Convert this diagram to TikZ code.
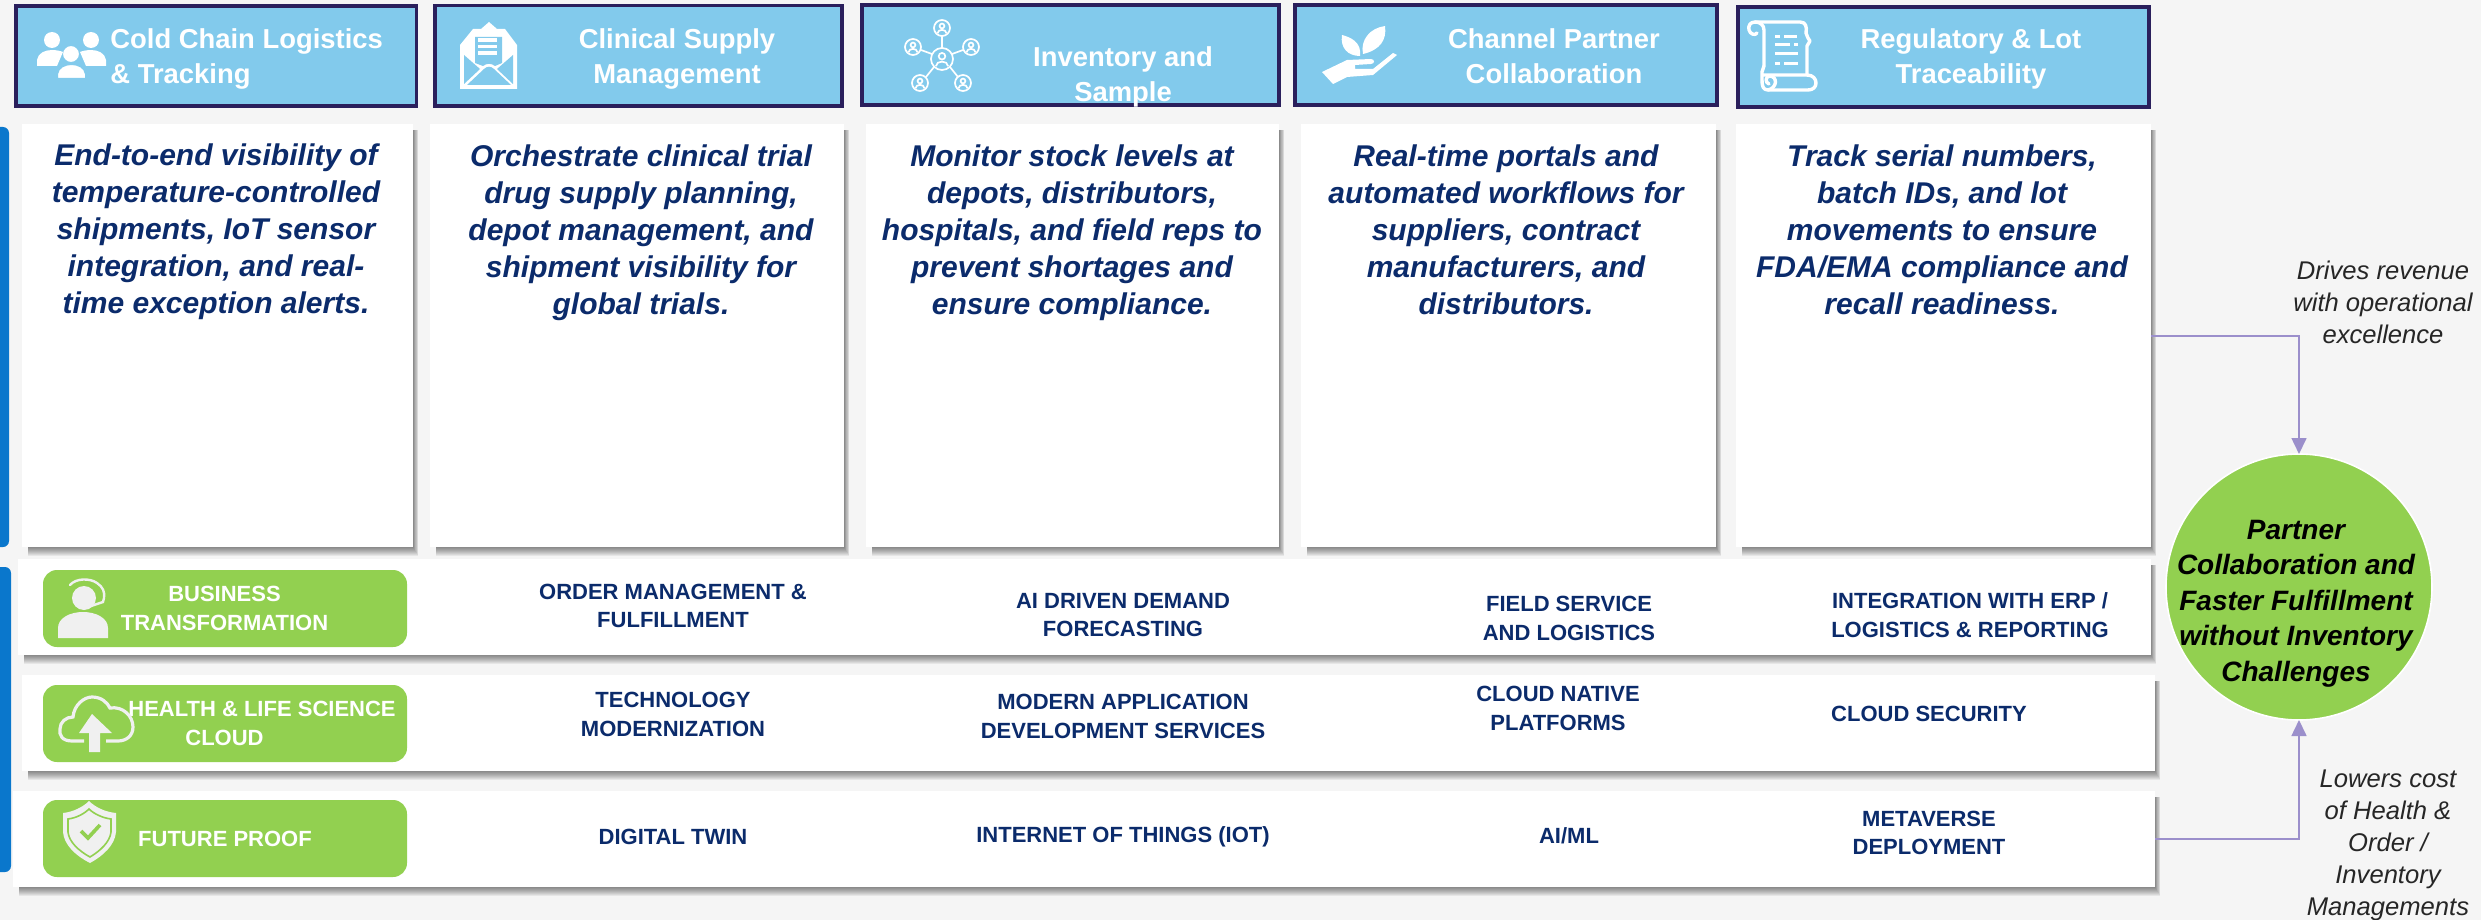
\documentclass[tikz,border=0pt]{standalone}
\usepackage{fontspec}
\setmainfont{Liberation Sans}
\usetikzlibrary{arrows.meta}
\definecolor{bgc}{HTML}{F5F5F5}
\definecolor{headfill}{HTML}{82CAEC}
\definecolor{headline}{HTML}{2A1F5C}
\definecolor{navy}{HTML}{0B2B6B}
\definecolor{leaf}{HTML}{92D050}
\definecolor{barblue}{HTML}{0A77CC}
\definecolor{conn}{HTML}{9B8FCB}
\definecolor{icongray}{HTML}{F0F0F0}
\tikzset{
  struts/.style={execute at begin node=\strut,execute at end node=\strut},
  headbox/.style={draw=headline,line width=1.75pt,fill=headfill,inner sep=0,outer sep=0},
  whitebox/.style={fill=white,inner sep=0,outer sep=0},
  pill/.style={fill=leaf,rounded corners=7pt,inner sep=0,outer sep=0},
  headtext/.style={struts,text=white,align=center,inner sep=0,font=\bfseries\fontsize{13.7}{17.5}\selectfont},
  headleft/.style={struts,text=white,align=left,anchor=west,inner sep=0,font=\bfseries\fontsize{13.7}{17.5}\selectfont},
  paneltext/.style={struts,text=navy,align=center,inner sep=0,font=\bfseries\itshape\fontsize{15}{18.5}\selectfont},
  rowtext/.style={text=navy,align=center,inner sep=0,font=\bfseries\fontsize{11}{14.3}\selectfont},
  pilltext/.style={text=white,align=center,inner sep=0,font=\bfseries\fontsize{11}{14.5}\selectfont},
  goaltext/.style={struts,text=black,align=center,inner sep=0,font=\bfseries\itshape\fontsize{14}{17.7}\selectfont},
  sidetext/.style={struts,text=black!85,align=center,inner sep=0,font=\itshape\fontsize{12.8}{16}\selectfont},
  connector/.style={draw=conn,line width=0.8pt,-{Triangle[width=7.5pt,length=8pt]}},
  wicon/.style={fill=white,draw=none},
  wline/.style={draw=white,line width=1.7pt,line cap=round,line join=round},
  thinw/.style={draw=white,line width=0.85pt},
  gicon/.style={fill=icongray,draw=none},
}
\newcommand{\boxat}[6]{\node[#2,minimum width={(#5-#3)*0.5pt},minimum height={(#6-#4)*0.5pt}] (#1) at ({(#3+#5)/2},{(#4+#6)/2}) {};}
\newcommand{\softshade}[4]{\foreach \e in {0,...,9}{\fill[black,opacity=0.06] ({#1+6},{#2+6}) rectangle ({#3+0.6*\e},{#4+\e});}}
\newcommand{\netperson}[3]{%
  \draw[thinw] (#1,#2) circle[radius=#3];
  \draw[thinw] (#1,{#2-0.25*#3}) circle[radius={0.3*#3}];
  \draw[thinw] ({#1-0.55*#3},{#2+0.65*#3}) .. controls ({#1-0.55*#3},{#2+0.1*#3}) and ({#1+0.55*#3},{#2+0.1*#3}) .. ({#1+0.55*#3},{#2+0.65*#3});}
\begin{document}
\begin{tikzpicture}[x=0.5pt,y=-0.5pt]
\useasboundingbox (0,0) rectangle (2481,920);
\fill[bgc] (0,0) rectangle (2481,920);
\shade[left color=bgc,middle color=white,right color=bgc] (880,0) rectangle (1700,560);
% left bars
\fill[barblue,rounded corners=3pt] (-10,127) rectangle (9,547);
\fill[barblue,rounded corners=3pt] (-10,567) rectangle (11,872);
% header boxes
\boxat{h1}{headbox}{16}{6}{416.5}{106}
\boxat{h2}{headbox}{435}{5.5}{842}{106}
\boxat{h3}{headbox}{862}{5}{1279}{105}
\boxat{h4}{headbox}{1295}{5}{1717}{105}
\boxat{h5}{headbox}{1738}{7}{2149}{107}
% shadows and panels
\softshade{22}{124}{413}{547}
\softshade{430}{124}{844}{547}
\softshade{866}{124}{1279}{547}
\softshade{1301}{124}{1716}{547}
\softshade{1736}{124}{2151}{547}
\softshade{18}{559}{2151}{655}
\softshade{22}{675}{2155}{771}
\softshade{13}{791}{2155}{887}
\boxat{p1}{whitebox}{22}{124}{413}{547}
\boxat{p2}{whitebox}{430}{124}{844}{547}
\boxat{p3}{whitebox}{866}{124}{1279}{547}
\boxat{p4}{whitebox}{1301}{124}{1716}{547}
\boxat{p5}{whitebox}{1736}{124}{2151}{547}
\boxat{r1}{whitebox}{18}{559}{2151}{655}
\boxat{r2}{whitebox}{22}{675}{2155}{771}
\boxat{r3}{whitebox}{13}{791}{2155}{887}
\boxat{g1}{pill}{43}{570}{407}{647}
\boxat{g2}{pill}{43}{685}{407}{762}
\boxat{g3}{pill}{43}{800}{407}{877}
% goal circle
\node[circle,fill=leaf,draw=white,line width=0.8pt,minimum size=133pt,inner sep=0,outer sep=0] (goal) at (2299,587) {};
% connectors
\coordinate (topelbow) at (2299,336);
\coordinate (botelbow) at (2299,839);
\draw[connector] (p5.east |- topelbow) -- (topelbow) -- (goal.north);
\draw[connector] (r3.east |- botelbow) -- (botelbow) -- (goal.south);
% header text
\node[headleft] (ht1) at (110,61) {Cold Chain Logistics\\\& Tracking};
\node[headtext] (ht2) at (677,61) {Clinical Supply\\Management};
\node[headtext] (ht3) at (1123,79) {Inventory and\\Sample};
\node[headtext] (ht4) at (1554,61) {Channel Partner\\Collaboration};
\node[headtext] (ht5) at (1971,61) {Regulatory \& Lot\\Traceability};
% panel text
\node[paneltext] (pt1) at (216,234) {End-to-end visibility of\\temperature-controlled\\shipments, IoT sensor\\integration, and real-\\time exception alerts.};
\node[paneltext] (pt2) at (641,235) {Orchestrate clinical trial\\drug supply planning,\\depot management, and\\shipment visibility for\\global trials.};
\node[paneltext] (pt3) at (1072,235) {Monitor stock levels at\\depots, distributors,\\hospitals, and field reps to\\prevent shortages and\\ensure compliance.};
\node[paneltext] (pt4) at (1506,235) {Real-time portals and\\automated workflows for\\suppliers, contract\\manufacturers, and\\distributors.};
\node[paneltext] (pt5) at (1942,235) {Track serial numbers,\\batch IDs, and lot\\movements to ensure\\FDA/EMA compliance and\\recall readiness.};
% pill text
\node[pilltext] (gt1) at (224.5,608.5) {BUSINESS\\TRANSFORMATION};
\node[pilltext] (gt2) at (262,723.5) {HEALTH \& LIFE SCIENCE\\\hspace*{-37.5pt}CLOUD};
\node[pilltext] (gt3) at (225,839) {FUTURE PROOF};
% row text
\node[rowtext] (c11) at (673,606) {ORDER MANAGEMENT \&\\FULFILLMENT};
\node[rowtext] (c12) at (1123,615) {AI DRIVEN DEMAND\\FORECASTING};
\node[rowtext] (c13) at (1569,618.5) {FIELD SERVICE\\AND LOGISTICS};
\node[rowtext] (c14) at (1970,615) {INTEGRATION WITH ERP /\\LOGISTICS \& REPORTING};
\node[rowtext] (c21) at (673,714.5) {TECHNOLOGY\\MODERNIZATION};
\node[rowtext] (c22) at (1123,716.5) {MODERN APPLICATION\\DEVELOPMENT SERVICES};
\node[rowtext] (c23) at (1558,708.5) {CLOUD NATIVE\\PLATFORMS};
\node[rowtext] (c24) at (1929,713.5) {CLOUD SECURITY};
\node[rowtext] (c31) at (673,837) {DIGITAL TWIN};
\node[rowtext] (c32) at (1123,837) {INTERNET OF THINGS (IOT)};
\node[rowtext] (c33) at (1569,836) {AI/ML};
\node[rowtext] (c34) at (1929,833) {METAVERSE\\DEPLOYMENT};
% goal and side text
\node[goaltext] (gl) at (2296,606) {Partner\\Collaboration and\\Faster Fulfillment\\without Inventory\\Challenges};
\node[sidetext] (s1) at (2383,307) {Drives revenue\\with operational\\excellence};
\node[sidetext] (s2) at (2388,847) {Lowers cost\\of Health \&\\Order /\\Inventory\\Managements};
% icon: people
\fill[wicon] (52,40) circle[radius=8];
\fill[wicon] (91,40) circle[radius=8];
\draw[headfill,line width=1pt,fill=white] (71,54) circle[radius=9];
\fill[wicon] (37,66) -- (37,60) .. controls (38,53) and (45,50) .. (52,50) .. controls (56,50) and (61,51) .. (63,52) -- (57,66) -- cycle;
\fill[wicon] (106,66) -- (106,60) .. controls (105,53) and (98,50) .. (91,50) .. controls (87,50) and (82,51) .. (80,52) -- (86,66) -- cycle;
\draw[headfill,line width=1pt,fill=white] (57,79) -- (57,74) .. controls (58,67) and (65,64) .. (71.5,64) .. controls (78,64) and (85,67) .. (86,74) -- (86,79) -- cycle;
% icon: envelope
\fill[wicon] (460,45) -- (473,29) -- (481,29) -- (489,22) -- (497,29) -- (505,29) -- (517,45) -- (517,89) -- (460,89) -- cycle;
\fill[headfill] (475,37) -- (502,37) -- (502,63) -- (495,66) .. controls (491,63) and (487,63) .. (483,66) -- (475,63) -- cycle;
\fill[wicon] (478,38.5) rectangle (497,42);
\fill[wicon] (478,45) rectangle (497,48.5);
\fill[wicon] (478,51.5) rectangle (497,55);
\fill[headfill] (464,55) -- (480,69) -- (464,84) -- cycle;
\fill[headfill] (513,55) -- (497,69) -- (513,84) -- cycle;
\fill[headfill] (467,85) -- (484,69) .. controls (487,66) and (491,66) .. (494,69) -- (511,85) -- cycle;
% icon: network
\netperson{942}{59}{11}
\netperson{942}{28}{8}
\netperson{913}{47}{8}
\netperson{971}{47}{8}
\netperson{920}{83}{8}
\netperson{963}{83}{8}
\draw[thinw] (942,36) -- (942,48);
\draw[thinw] (952,54) -- (963,50);
\draw[thinw] (932,54) -- (921,50);
\draw[thinw] (934,67) -- (926,77);
\draw[thinw] (950,67) -- (958,77);
% icon: plant in hand
\fill[wicon] (1342,35) .. controls (1350,37) and (1362,42) .. (1360,56) .. controls (1348,56) and (1340,48) .. cycle;
\fill[wicon] (1385,26) .. controls (1387,40) and (1380,50) .. (1363,54) .. controls (1360,40) and (1370,28) .. cycle;
\fill[wicon] (1322,72) -- (1347,60) -- (1371,59) .. controls (1375,59) and (1375,64) .. (1371,64) -- (1355,65) -- (1355,69) -- (1373,69) -- (1393,53) -- (1397,55) -- (1373,75) -- (1347,77) -- (1333,84) -- cycle;
% icon: scroll
\draw[wline] (1764,66) -- (1764,30) .. controls (1764,25) and (1760,22) .. (1755,22) .. controls (1750,22) and (1748,26) .. (1749,30) .. controls (1750,34) and (1755,36) .. (1757,33);
\draw[wline] (1755,22) -- (1800,22) .. controls (1806,22) and (1807,27) .. (1806,33) -- (1808,38) -- (1810,41) -- (1807,46) -- (1807,75);
\draw[wline] (1764,75) -- (1807,75) .. controls (1813,75) and (1816,79) .. (1816,83) .. controls (1816,87) and (1813,90) .. (1808,90) -- (1768,90) .. controls (1763,90) and (1762,86) .. (1762,80) -- (1762,72) -- (1764,66);
\draw[wline] (1768,90) .. controls (1777,88) and (1778,77) .. (1770,76) .. controls (1765,76) and (1765,83) .. (1769,84);
\foreach \xa/\xb/\yy in {1775/1780/37,1784/1797/37,1775/1790/45,1794/1798/45,1775/1798/54,1775/1780/64,1784/1798/64}{\draw[draw=white,line width=1.5pt] (\xa,\yy) -- (\xb,\yy);}
% icon: headset
\fill[gicon] (84,598) circle[radius=12];
\fill[gicon] (58,638) -- (58,628) .. controls (58,618) and (70,612) .. (83,612) .. controls (96,612) and (108,618) .. (108,628) -- (108,638) -- cycle;
\draw[icongray,line width=1.2pt,line cap=round] (70,585) .. controls (76,578) and (90,578) .. (97,583) .. controls (103,587) and (105,592) .. (104,598) -- (103,602) -- (88,607);
% icon: cloud
\draw[icongray,line width=1.6pt] (84,741) -- (72,741) .. controls (62,741) and (59,735) .. (60,729) .. controls (60,722) and (66,717) .. (73,717) .. controls (74,705) and (84,697) .. (92,697) .. controls (101,697) and (107,702) .. (110,708) .. controls (123,706) and (133,716) .. (133,727) .. controls (133,736) and (126,741) .. (118,741) -- (106,741);
\fill[gicon] (92,714) -- (112,733) -- (100,733) -- (100,752) -- (89,752) -- (89,733) -- (79,733) -- cycle;
% icon: shield
\fill[gicon] (89,801) .. controls (95,807) and (105,812) .. (116,813) -- (116,832) .. controls (115,845) and (103,856) .. (90,863) .. controls (76,856) and (64,845) .. (63,832) -- (63,813) .. controls (73,812) and (83,807) .. cycle;
\draw[leaf,line width=0.8pt] (89,809) .. controls (94,814) and (103,818) .. (111,819) -- (111,832) .. controls (110,842) and (100,851) .. (90,857) .. controls (79,851) and (69,842) .. (68,832) -- (68,819) .. controls (76,818) and (84,814) .. cycle;
\draw[leaf,line width=1.8pt] (81,831) -- (88,838) -- (100,825);
\end{tikzpicture}
\end{document}
